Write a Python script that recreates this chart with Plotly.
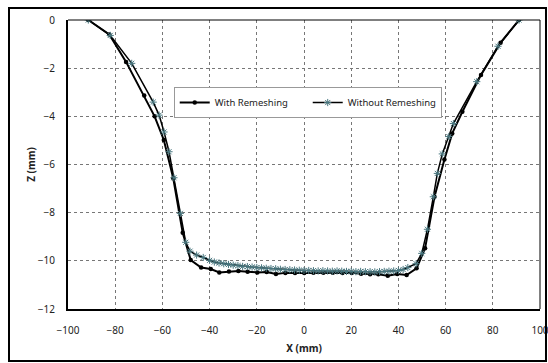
import plotly.graph_objects as go

# With Remeshing
x_with = [-91.4, -82.5, -75.4, -67.7, -63.3, -59.4, -55.4, -51.4, -48.0, -43.6, -39.5, -35.9,
          -31.8, -27.8, -23.9, -19.8, -15.8, -11.9, -7.9, -3.8, 0.1, 4.0, 8.2, 12.2, 16.3,
          20.2, 24.2, 28.0, 31.5, 35.5, 39.5, 43.5, 47.7, 51.3, 55.3, 59.5, 62.8, 67.1,
          75.0, 83.3, 91.1]
z_with = [0, -0.6, -1.74, -3.14, -4.0, -4.98, -6.57, -8.83, -9.97, -10.28, -10.34, -10.48,
          -10.44, -10.42, -10.45, -10.48, -10.46, -10.55, -10.50, -10.50, -10.50, -10.49,
          -10.49, -10.49, -10.50, -10.50, -10.54, -10.56, -10.56, -10.62, -10.55, -10.59,
          -10.31, -9.48, -7.34, -5.79, -4.71, -3.81, -2.28, -0.94, 0]

# Without Remeshing
x_without = [-91.4, -82.1, -73.0, -63.9, -61.4, -59.3, -57.2, -55.1, -52.4, -50.1, -48.3,
             -45.5, -42.7, -40.0,
             -38, -36, -34, -32, -30, -28, -26, -24, -22, -20, -18, -16, -14, -12, -10,
             -8, -6, -4, -2, 0, 2, 4, 6, 8, 10, 12, 14, 16, 18, 20, 22, 24, 26, 28, 30,
             32, 34, 36, 38, 40, 42, 44,
             47.5, 49.9, 52.3, 54.8, 56.5, 58.6, 61.4, 63.3, 73.2, 82.2, 91.1]
z_without = [0, -0.64, -1.80, -3.41, -3.95, -4.65, -5.47, -6.55, -8.03, -9.23, -9.60,
             -9.76, -9.86, -9.98,
             -10.05, -10.09, -10.12, -10.15, -10.18, -10.20, -10.23, -10.24, -10.26,
             -10.28, -10.29, -10.31, -10.32, -10.33, -10.35, -10.36, -10.37, -10.38,
             -10.39, -10.40, -10.40, -10.41, -10.42, -10.41, -10.42, -10.43, -10.42,
             -10.43, -10.44, -10.44, -10.45, -10.44, -10.45, -10.45, -10.46, -10.45,
             -10.44, -10.43, -10.42, -10.40, -10.36, -10.28,
             -10.12, -9.69, -8.69, -7.34, -6.37, -5.56, -4.84, -4.30, -2.56, -1.09, 0]

x_ticks = [-100, -80, -60, -40, -20, 0, 20, 40, 60, 80, 100]
z_ticks = [0, -2, -4, -6, -8, -10, -12]

font = "Noto Sans"

fig = go.Figure()
fig.add_trace(go.Scatter(
    x=x_with, y=z_with, mode="lines+markers", name="With Remeshing",
    line=dict(color="black", width=2),
    marker=dict(symbol="circle", size=4.5, color="black"),
))
fig.add_trace(go.Scatter(
    x=x_without, y=z_without, mode="lines+markers", name="Without Remeshing",
    line=dict(color="black", width=1.5),
    marker=dict(symbol="asterisk-open", size=6, color="#4a7880",
                line=dict(color="#4a7880", width=1)),
))

fig.update_layout(
    width=548, height=363,
    margin=dict(l=68, r=8, t=20, b=54, autoexpand=False),
    paper_bgcolor="white", plot_bgcolor="white",
    font=dict(family=font, size=10, color="#222222"),
    showlegend=True,
    legend=dict(orientation="h", x=0.224, y=0.768, xanchor="left", yanchor="top",
                bgcolor="white", bordercolor="#999999", borderwidth=1,
                font=dict(family=font, size=9.5, color="#222222"),
                itemwidth=30, tracegroupgap=0,
                entrywidthmode="pixels", entrywidth=88),
    xaxis=dict(range=[-100, 100], tickvals=x_ticks, ticks="", showline=True,
               linecolor="black", linewidth=2, mirror=False, automargin=False,
               showgrid=True, gridcolor="#777777", griddash="dot", gridwidth=1,
               zeroline=False, ticklabelstandoff=11, ticklabeloverflow="allow",
               title=dict(text="<b>X (mm)</b>", standoff=9,
                          font=dict(family=font, size=10, color="#222222"))),
    yaxis=dict(range=[-12, 0], tickvals=z_ticks, ticks="", showline=True,
               linecolor="black", linewidth=2, mirror=False, automargin=False,
               showgrid=True, gridcolor="#777777", griddash="dot", gridwidth=1,
               zeroline=False, ticklabelstandoff=9, ticklabeloverflow="allow",
               title=dict(text="<b>Z (mm)</b>", standoff=0,
                          font=dict(family=font, size=10, color="#222222"))),
    shapes=[
        dict(type="line", xref="paper", yref="paper", x0=0, x1=1, y0=1, y1=1,
             line=dict(color="black", width=1)),
        dict(type="line", xref="paper", yref="paper", x0=1, x1=1, y0=0, y1=1,
             line=dict(color="black", width=1)),
        dict(type="rect", xref="paper", yref="paper", x0=-0.125, x1=1.0127,
             y0=-0.18, y1=1.0415, line=dict(color="black", width=2)),
    ],
)

fig.write_html("out.html", config={"displayModeBar": False},
               post_script="document.body.style.margin='0';document.body.style.padding='0';")
